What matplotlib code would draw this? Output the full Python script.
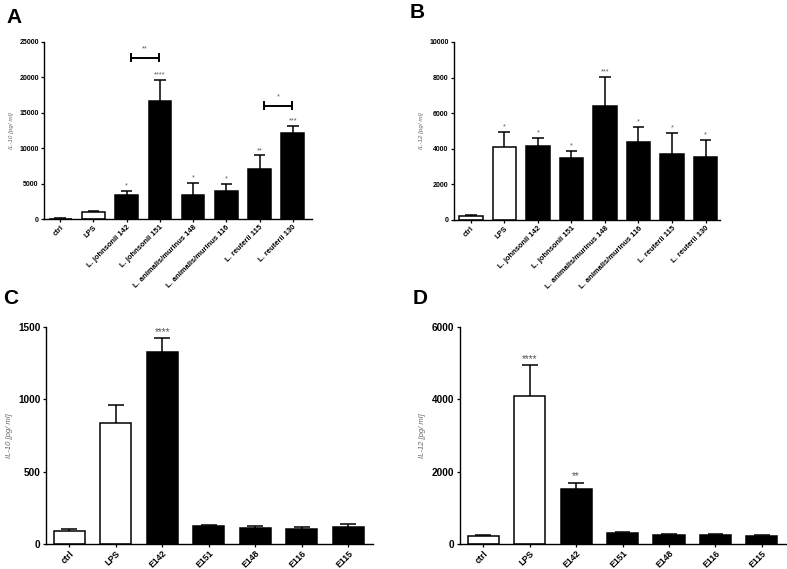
import matplotlib
matplotlib.use("Agg")
import matplotlib.pyplot as plt
import numpy as np

plt.rcParams['font.family'] = ['Liberation Sans', 'DejaVu Sans']

# ---------------- data ----------------
cats_top = ["ctrl", "LPS", "L. johnsonii 142", "L. johnsonii 151",
            "L. animalis/murinus 148", "L. animalis/murinus 116",
            "L. reuterii 115", "L. reuterii 130"]
il10_a = [50, 950, 3350, 16700, 3400, 3900, 7000, 12200]
il10_a_err = [40, 200, 650, 2900, 1700, 1100, 2000, 1000]
il10_a_sig = ["", "", "*", "****", "*", "*", "**", "***"]
a_brackets = [(2, 3, 22800, "**"), (6, 7, 16000, "*")]

il12_b = [206, 4080, 4140, 3500, 6390, 4360, 3730, 3520]
il12_b_err = [74, 860, 460, 400, 1640, 860, 1160, 990]
il12_b_sig = ["", "*", "*", "*", "***", "*", "*", "*"]

cats_bot = ["ctrl", "LPS", "E142", "E151", "E148", "E116", "E115"]
il10_c = [92, 838, 1325, 122, 113, 106, 120]
il10_c_err = [9, 122, 99, 7, 9, 12, 21]
il10_c_sig = ["", "", "****", "", "", "", ""]

il12_d = [231, 4098, 1514, 295, 249, 240, 231]
il12_d_err = [27, 840, 184, 37, 37, 28, 18]
il12_d_sig = ["", "****", "**", "", "", "", ""]

white_a = ["ctrl", "LPS"]

W, H = 787, 569
fig = plt.figure(figsize=(W / 100, H / 100), dpi=100)


def ax_px(x0, x1, ytop, ybot):
    return fig.add_axes([x0 / W, (H - ybot) / H, (x1 - x0) / W, (ybot - ytop) / H])


def panel(ax, cats, vals, errs, sigs, ylim, yticks, ylabel, xlim, width,
          tfs, xfs, lfs, sfs, capw, lw=1.1):
    x = np.arange(len(cats))
    colors = ["white" if c in white_a else "black" for c in cats]
    ax.bar(x, vals, width=width, color=colors, edgecolor="black", linewidth=lw, zorder=2)
    for xi, v, e in zip(x, vals, errs):
        ax.plot([xi, xi], [v, v + e], color="black", lw=lw, zorder=1, solid_capstyle="butt")
        ax.plot([xi - capw / 2, xi + capw / 2], [v + e, v + e], color="black", lw=lw,
                zorder=1, solid_capstyle="butt")
    for xi, v, e, s in zip(x, vals, errs, sigs):
        if s:
            ax.annotate(s, (xi, v + e), xytext=(0, 1), textcoords="offset points",
                        ha="center", va="bottom", fontsize=sfs, color="#555555")
    ax.set_xlim(*xlim)
    ax.set_ylim(*ylim)
    ax.set_yticks(yticks)
    ax.set_yticklabels([str(t) for t in yticks], fontsize=tfs, fontweight="bold")
    ax.set_xticks(x)
    ax.set_xticklabels(cats, rotation=45, ha="right", rotation_mode="anchor",
                       fontsize=xfs, fontweight="bold")
    ax.set_ylabel(ylabel, fontsize=lfs, style="italic", color="#666666")
    for sp in ["top", "right"]:
        ax.spines[sp].set_visible(False)
    for sp in ["left", "bottom"]:
        ax.spines[sp].set_linewidth(1.0)
    ax.tick_params(axis="both", direction="out", length=2.5, width=0.9, pad=1.5)
    ax.tick_params(axis="x", pad=1.0)


axA = ax_px(44.3, 311.7, 42, 219)
panel(axA, cats_top, il10_a, il10_a_err, il10_a_sig, (0, 25000),
      [0, 5000, 10000, 15000, 20000, 25000], "IL-10 [pg/ ml]", (-0.48, 7.57),
      0.68, 5, 5.4, 4.5, 5.2, 0.35)
for i, j, yb, s in a_brackets:
    x0, x1 = i + 0.12, j - 0.02
    axA.plot([x0, x1], [yb, yb], color="black", lw=1.4, solid_capstyle="butt")
    for xe in (x0, x1):
        axA.plot([xe, xe], [yb - 650, yb + 650], color="black", lw=1.4, solid_capstyle="butt")
    axA.annotate(s, ((x0 + x1) / 2, yb), xytext=(0, 4), textcoords="offset points",
                 ha="center", va="bottom", fontsize=5.2, color="#555555")

axB = ax_px(454, 720, 42, 220)
panel(axB, cats_top, il12_b, il12_b_err, il12_b_sig, (0, 10000),
      [0, 2000, 4000, 6000, 8000, 10000], "IL-12 [pg/ ml]", (-0.5, 7.43),
      0.7, 5, 5.4, 4.5, 5.2, 0.35)

axC = ax_px(46, 373, 327, 544)
panel(axC, cats_bot, il10_c, il10_c_err, il10_c_sig, (0, 1500),
      [0, 500, 1000, 1500], "IL-10 [pg/ ml]", (-0.5, 6.53),
      0.67, 7.2, 6.3, 5.5, 7.2, 0.34)

axD = ax_px(460, 786, 327, 544)
panel(axD, cats_bot, il12_d, il12_d_err, il12_d_sig, (0, 6000),
      [0, 2000, 4000, 6000], "IL-12 [pg/ ml]", (-0.5, 6.52),
      0.67, 7.2, 6.3, 5.5, 7.2, 0.34)

for lab, (px, py) in zip("ABCD", [(6, 23), (410, 18), (3, 304), (413, 304)]):
    fig.text(px / W, (H - py) / H, lab, fontsize=15, fontweight="bold",
             ha="left", va="baseline")

fig.savefig("out.png", dpi=100)
